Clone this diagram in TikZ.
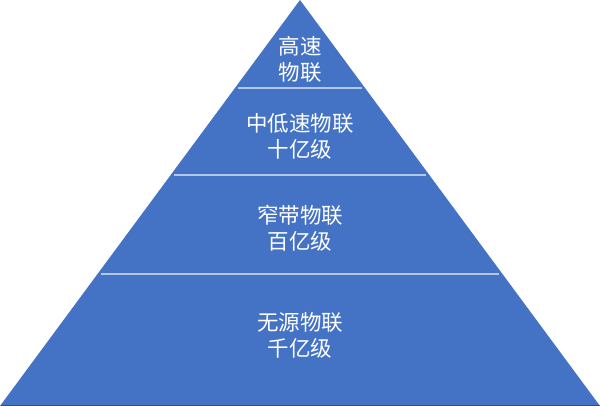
\documentclass[tikz,border=0pt]{standalone}
\usepackage{fontspec}
\newfontfamily\cjk{Noto Sans CJK SC}
\definecolor{pyr}{HTML}{4472C4}
\definecolor{sep}{HTML}{B4C7E7}
\definecolor{edge}{HTML}{2F528F}
\begin{document}
\begin{tikzpicture}[x=1pt,y=-1pt,
  lbl/.style={text=white,font=\cjk\fontsize{21.5}{26}\selectfont,align=center,inner sep=0pt},
  sepline/.style={draw=sep,line width=1.2pt}]
\useasboundingbox (0,0) rectangle (600,406);
\coordinate (top) at (300,0);
\coordinate (bl) at (0,406);
\coordinate (br) at (600,406);
\fill[pyr] (top) -- (br) -- (bl) -- cycle;
\draw[edge,line width=1pt] (0.5,405.5) -- (599.5,405.5);
\foreach \yy in {88,175,274}{
  \pgfmathsetmacro{\hw}{0.738916*\yy-3}
  \draw[sepline] (300-\hw,\yy) -- (300+\hw,\yy);
}
\node[lbl] (n1) at (300,59) {高速\\物联};
\node[lbl] (n2) at (300,136) {中低速物联\\十亿级};
\node[lbl] (n3) at (300,228) {窄带物联\\百亿级};
\node[lbl] (n4) at (300,335) {无源物联\\千亿级};
\end{tikzpicture}
\end{document}
